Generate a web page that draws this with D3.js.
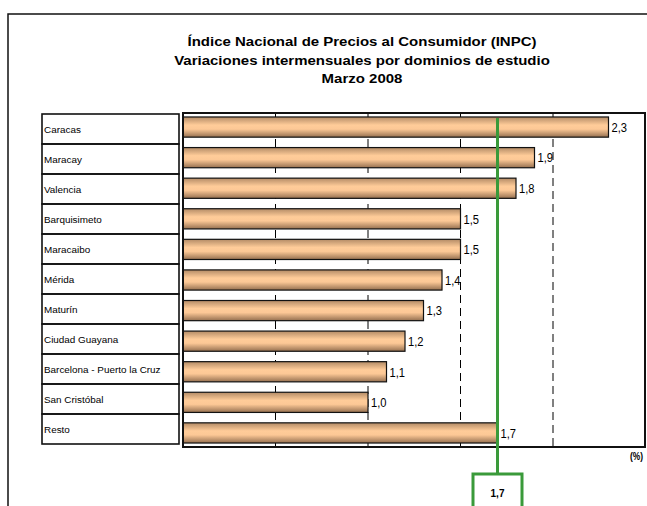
<!DOCTYPE html>
<html><head><meta charset="utf-8">
<script src="https://cdn.jsdelivr.net/npm/d3@7"></script>
<style>
html,body{margin:0;padding:0;background:#fff;overflow:hidden}
text{font-family:"Liberation Sans",Arial,sans-serif}
</style></head>
<body>
<script>
const titleLines = ["Índice Nacional de Precios al Consumidor (INPC)","Variaciones intermensuales por dominios de estudio","Marzo 2008"];
const categories = ["Caracas","Maracay","Valencia","Barquisimeto","Maracaibo","Mérida","Maturín","Ciudad Guayana","Barcelona - Puerto la Cruz","San Cristóbal","Resto"];
const values = [2.3,1.9,1.8,1.5,1.5,1.4,1.3,1.2,1.1,1.0,1.7];
const gridTicks = [0.5,1.0,1.5,2.0];
const averageValue = 1.7;
const unitLabel = "(%)";

const W = 647, H = 506;
const svg = d3.select("body").append("svg").attr("width",W).attr("height",H);
const fmt = v => d3.format(".1f")(v).replace(".", ",");

// outer frame
svg.append("rect").attr("x",8).attr("y",14).attr("width",W+20).attr("height",H+20)
  .attr("fill","none").attr("stroke","#111").attr("stroke-width",1.5);

// title
const titleY = [46,64.5,82.5];
titleLines.forEach((t,i)=>{
  svg.append("text").attr("transform",`translate(362,${titleY[i]}) scale(1.2,1)`)
    .attr("text-anchor","middle").attr("font-weight","bold").attr("font-size",12.5)
    .attr("fill","#000").text(t);
});

const x = d3.scaleLinear().domain([0,2.5]).range([183,645.5]);
const y = d3.scaleBand().domain(categories).range([113,447]).paddingInner(0.34).paddingOuter(0.13);
const rowY = d3.scaleBand().domain(categories).range([114,444]);

// gradient
const defs = svg.append("defs");
const g = defs.append("linearGradient").attr("id","barGrad").attr("x1",0).attr("y1",0).attr("x2",0).attr("y2",1);
g.append("stop").attr("offset","0%").attr("stop-color","#b38b66");
g.append("stop").attr("offset","40%").attr("stop-color","#ffcc99");
g.append("stop").attr("offset","60%").attr("stop-color","#fcc896");
g.append("stop").attr("offset","100%").attr("stop-color","#957050");

// gridlines
svg.append("g").selectAll("line").data(gridTicks).join("line")
  .attr("x1",d=>x(d)).attr("x2",d=>x(d)).attr("y1",113).attr("y2",447)
  .attr("stroke","#000").attr("stroke-width",1).attr("stroke-dasharray","8,5");

// bars
svg.append("g").selectAll("rect").data(values).join("rect")
  .attr("x",x(0)).attr("y",(d,i)=>y(categories[i]))
  .attr("width",d=>x(d)-x(0)).attr("height",y.bandwidth())
  .attr("fill","url(#barGrad)").attr("stroke","#111").attr("stroke-width",1.2);

// value labels
svg.append("g").selectAll("text").data(values).join("text")
  .attr("transform",(d,i)=>`translate(${x(d)+3},${y(categories[i])+y.bandwidth()/2+4.8}) scale(0.86,1)`)
  .attr("font-size",13).attr("fill","#000").text(d=>fmt(d));

// plot frame
svg.append("rect").attr("x",183).attr("y",113).attr("width",645-183).attr("height",447-113)
  .attr("fill","none").attr("stroke","#111").attr("stroke-width",2);

// category table
const tbl = svg.append("g");
tbl.selectAll("rect").data(categories).join("rect")
  .attr("x",42).attr("y",d=>rowY(d)).attr("width",179-42).attr("height",rowY.bandwidth())
  .attr("fill","none").attr("stroke","#111").attr("stroke-width",1.6);
tbl.selectAll("text").data(categories).join("text")
  .attr("transform",d=>`translate(44,${rowY(d)+rowY.bandwidth()/2+3.5}) scale(1.1,1)`)
  .attr("font-size",9).attr("fill","#000").text(d=>d);

// unit label
svg.append("text").attr("transform","translate(643,460) scale(0.8,1)")
  .attr("text-anchor","end").attr("font-weight","bold").attr("font-size",10.5).text(unitLabel);

// average line + box
const green = "#3a9a3a";
const ax = x(averageValue);
svg.append("line").attr("x1",ax).attr("x2",ax).attr("y1",118).attr("y2",474)
  .attr("stroke",green).attr("stroke-width",3);
svg.append("rect").attr("x",ax-24.5).attr("y",474).attr("width",49).attr("height",60)
  .attr("fill","#fff").attr("stroke",green).attr("stroke-width",3);
svg.append("text").attr("x",ax).attr("y",497).attr("text-anchor","middle")
  .attr("font-family","DejaVu Sans").attr("font-weight","bold").attr("font-size",10)
  .attr("fill","#000").text(fmt(averageValue));
</script>
</body></html>
